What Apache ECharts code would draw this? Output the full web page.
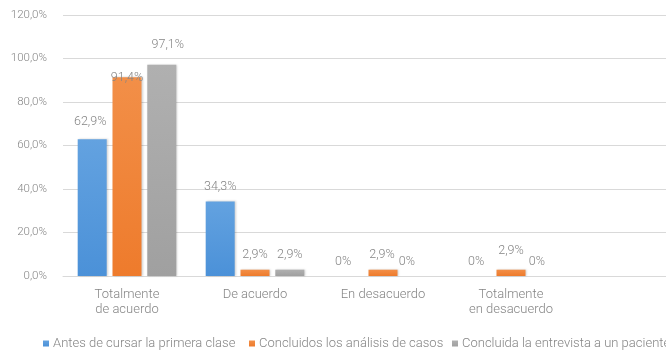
<!DOCTYPE html>
<html>
<head>
<meta charset="utf-8">
<script src="https://cdn.jsdelivr.net/npm/echarts@6/dist/echarts.min.js"></script>
<style>
  html, body { margin: 0; padding: 0; background: #ffffff; }
  #chart { width: 666px; height: 353px; }
</style>
</head>
<body>
<div id="chart"></div>
<script>
// Survey answers, percentage of students per response category
const categories = ['Totalmente\nde acuerdo', 'De acuerdo', 'En desacuerdo', 'Totalmente\nen desacuerdo'];
const seriesNames = [
  'Antes de cursar la primera clase',
  'Concluidos los análisis de casos',
  'Concluida la entrevista a un paciente'
];
const antesValues = [62.9, 34.3, 0, 0];
const analisisValues = [91.4, 2.9, 2.9, 2.9];
const entrevistaValues = [97.1, 2.9, 0, 0];
const yTicks = { min: 0, max: 120, interval: 20 };

const colors = ['#4b91d8', '#ee7b2c', '#a0a0a0'];
const colorsTop = ['#63a2e0', '#f28f48', '#b0b0b0'];
const textColor = '#858585';
const font = 'Roboto, "Noto Sans", sans-serif';
const weight = 300;

// label nudges [series][category] -> [dx, dy]
const labelNudge = [
  [[-2, -3], [0, 0], [-5, 0], [0, 0]],
  [[0, 15], [0, 0], [-1, 0], [0, -4]],
  [[6, -5], [0, 0], [-11, 0], [-9, 0]]
];

function fmtPct(v) {
  if (v === 0) return '0%';
  return v.toFixed(1).replace('.', ',') + '%';
}

function buildSeries(name, values, idx) {
  return {
    name: name,
    type: 'bar',
    barWidth: 29,
    barGap: '20%',
    itemStyle: {
      color: new echarts.graphic.LinearGradient(0, 0, 0, 1, [
        { offset: 0, color: colorsTop[idx] },
        { offset: 1, color: colors[idx] }
      ]),
      shadowColor: 'rgba(0,0,0,0.18)',
      shadowBlur: 2,
      shadowOffsetX: 1
    },
    label: {
      show: true,
      position: 'top',
      distance: 8,
      color: textColor,
      fontFamily: font,
      fontWeight: weight,
      fontSize: 12.5,
      formatter: p => fmtPct(p.value)
    },
    data: values.map((v, i) => ({
      value: v,
      label: { offset: labelNudge[idx][i] }
    }))
  };
}

const legendLefts = [43, 249, 452];

const chart = echarts.init(document.getElementById('chart'), null, { renderer: 'canvas' });
chart.setOption({
  animation: false,
  backgroundColor: '#ffffff',
  color: colors,
  grid: {
    left: 63, top: 15, height: 261, width: 640,
    containLabel: false,
    outerBoundsMode: 'none'
  },
  legend: seriesNames.map((n, i) => ({
    data: [n],
    left: legendLefts[i],
    top: 337,
    itemWidth: 6,
    itemHeight: 6,
    itemGap: 4,
    icon: 'rect',
    padding: 0,
    textStyle: { color: textColor, fontFamily: font, fontWeight: weight, fontSize: 13, padding: [0, 0, 0, -1] }
  })),
  xAxis: {
    type: 'category',
    data: categories.concat(['']),
    axisLine: { show: true, lineStyle: { color: '#d9d9d9', width: 1 } },
    axisTick: { show: false },
    axisLabel: {
      color: textColor,
      fontFamily: font,
      fontWeight: weight,
      fontSize: 13,
      lineHeight: 15,
      margin: 11,
      interval: 0
    }
  },
  yAxis: {
    type: 'value',
    min: yTicks.min,
    max: yTicks.max,
    interval: yTicks.interval,
    axisLine: { show: false },
    axisTick: { show: false },
    splitLine: { lineStyle: { color: '#d9d9d9', width: 1 } },
    axisLabel: {
      color: textColor,
      fontFamily: font,
      fontWeight: weight,
      fontSize: 11.5,
      margin: 16,
      formatter: v => v.toFixed(1).replace('.', ',') + '%'
    }
  },
  series: [
    buildSeries(seriesNames[0], antesValues, 0),
    buildSeries(seriesNames[1], analisisValues, 1),
    buildSeries(seriesNames[2], entrevistaValues, 2)
  ]
});
</script>
</body>
</html>
